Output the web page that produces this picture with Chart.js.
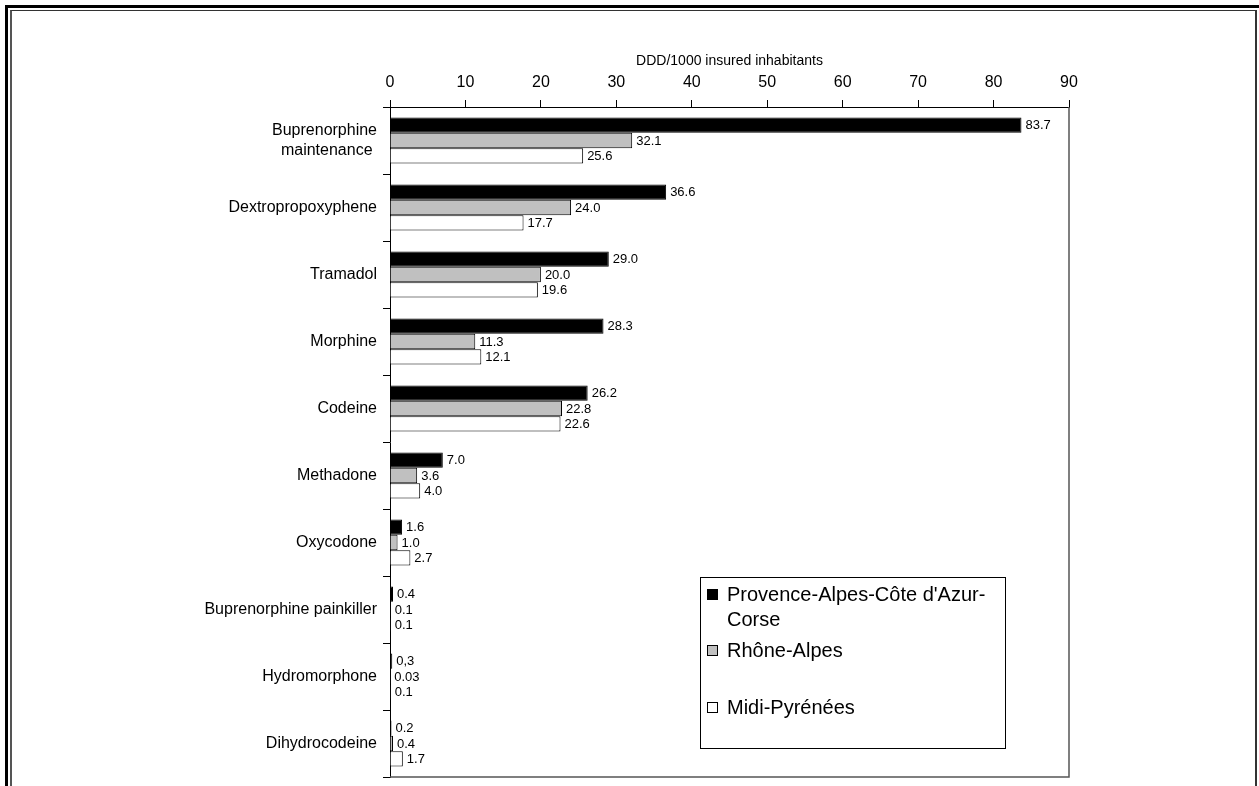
<!DOCTYPE html>
<html>
<head>
<meta charset="utf-8">
<script src="https://cdn.jsdelivr.net/npm/chart.js@4.4.1/dist/chart.umd.min.js"></script>
<style>
  html, body { margin: 0; padding: 0; background: #fff; }
  body { width: 1259px; height: 786px; position: relative; overflow: hidden; }
  #frameOuter { position: absolute; left: 5px; top: 5px; width: 1300px; height: 900px;
    border-top: 3px solid #000; border-left: 3px solid #000; box-sizing: border-box; }
  #frameInner { position: absolute; left: 10px; top: 10px; width: 1247px; height: 900px;
    border-top: 1px solid #333; border-left: 2px solid #555; border-right: 2px solid #333; box-sizing: border-box; }
  #wrap { position: absolute; left: 0; top: 0; width: 1259px; height: 786px; }
</style>
</head>
<body>
<div id="frameOuter"></div>
<div id="frameInner"></div>
<div id="wrap"><canvas id="c" width="1259" height="786"></canvas></div>
<script>
// Opioid consumption by region, DDD per 1000 insured inhabitants
const categories = [
  ["Buprenorphine", "maintenance "],
  "Dextropropoxyphene",
  "Tramadol",
  "Morphine",
  "Codeine",
  "Methadone",
  "Oxycodone",
  "Buprenorphine painkiller",
  "Hydromorphone",
  "Dihydrocodeine"
];
const seriesNames = ["Provence-Alpes-Côte d'Azur-Corse", "Rhône-Alpes", "Midi-Pyrénées"];
const legendLines = [["Provence-Alpes-Côte d'Azur-", "Corse"], ["Rhône-Alpes"], ["Midi-Pyrénées"]];
const pacaValues = [83.7, 36.6, 29.0, 28.3, 26.2, 7.0, 1.6, 0.4, 0.3, 0.2];
const rhoneValues = [32.1, 24.0, 20.0, 11.3, 22.8, 3.6, 1.0, 0.1, 0.03, 0.4];
const midiValues = [25.6, 17.7, 19.6, 12.1, 22.6, 4.0, 2.7, 0.1, 0.1, 1.7];
const pacaLabels = ["83.7", "36.6", "29.0", "28.3", "26.2", "7.0", "1.6", "0.4", "0,3", "0.2"];
const rhoneLabels = ["32.1", "24.0", "20.0", "11.3", "22.8", "3.6", "1.0", "0.1", "0.03", "0.4"];
const midiLabels = ["25.6", "17.7", "19.6", "12.1", "22.6", "4.0", "2.7", "0.1", "0.1", "1.7"];
const axisTitle = "DDD/1000 insured inhabitants";
const xTicks = [0, 10, 20, 30, 40, 50, 60, 70, 80, 90];

const FONT = "'Liberation Sans', Arial, sans-serif";

// Value labels to the right of each bar
const valueLabels = {
  id: 'valueLabels',
  afterDatasetsDraw(chart) {
    const ctx = chart.ctx;
    ctx.save();
    ctx.font = "13px " + FONT;
    ctx.fillStyle = "#000";
    ctx.textAlign = "left";
    ctx.textBaseline = "middle";
    chart.data.datasets.forEach((ds, di) => {
      const meta = chart.getDatasetMeta(di);
      meta.data.forEach((bar, i) => {
        ctx.fillText(ds.valueText[i], bar.x + 4, bar.y + 0.5);
      });
    });
    ctx.restore();
  }
};

// Right and bottom edges of the plot area
const plotFrame = {
  id: 'plotFrame',
  beforeDatasetsDraw(chart) {
    const { ctx, chartArea: a } = chart;
    ctx.save();
    ctx.strokeStyle = "#555";
    ctx.lineWidth = 1.5;
    ctx.beginPath();
    ctx.moveTo(a.right, a.top);
    ctx.lineTo(a.right, a.bottom);
    ctx.lineTo(a.left, a.bottom);
    ctx.stroke();
    ctx.restore();
  }
};

// Boxed legend inside the plot area
const boxLegend = {
  id: 'boxLegend',
  afterDraw(chart) {
    const ctx = chart.ctx;
    const bx = 700, by = 577, bw = 305, bh = 171;
    ctx.save();
    ctx.fillStyle = "#fff";
    ctx.fillRect(bx, by, bw, bh);
    ctx.strokeStyle = "#000";
    ctx.lineWidth = 1;
    ctx.strokeRect(bx + 0.5, by + 0.5, bw, bh);
    ctx.font = "20px " + FONT;
    ctx.textBaseline = "middle";
    ctx.textAlign = "left";
    const rowY = [595, 651, 708];
    chart.data.datasets.forEach((ds, i) => {
      const y = rowY[i];
      ctx.fillStyle = ds.backgroundColor;
      ctx.fillRect(707.5, y - 5.5, 10, 10);
      ctx.strokeStyle = "#000";
      ctx.strokeRect(707.5, y - 5.5, 10, 10);
      ctx.fillStyle = "#000";
      legendLines[i].forEach((line, k) => {
        ctx.fillText(line, 727, y + k * 25);
      });
    });
    ctx.restore();
  }
};

const barStyle = { borderColor: "#000", borderWidth: 1, categoryPercentage: 0.69, barPercentage: 1.0 };

new Chart(document.getElementById('c'), {
  type: 'bar',
  data: {
    labels: categories,
    datasets: [
      Object.assign({ label: seriesNames[0], data: pacaValues, valueText: pacaLabels, backgroundColor: "#000000" }, barStyle),
      Object.assign({ label: seriesNames[1], data: rhoneValues, valueText: rhoneLabels, backgroundColor: "#c0c0c0" }, barStyle),
      Object.assign({ label: seriesNames[2], data: midiValues, valueText: midiLabels, backgroundColor: "#ffffff" }, barStyle)
    ]
  },
  options: {
    indexAxis: 'y',
    responsive: false,
    animation: false,
    devicePixelRatio: 1,
    layout: { padding: { left: 0, top: 0, right: 190, bottom: 9 } },
    plugins: { legend: { display: false }, tooltip: { enabled: false } },
    scales: {
      x: {
        position: 'top',
        min: 0,
        max: 90,
        afterBuildTicks(scale) { scale.ticks = xTicks.map(v => ({ value: v })); },
        afterFit(scale) { scale.height = 107; scale.paddingLeft = 0; scale.paddingRight = 0; },
        ticks: { font: { family: FONT, size: 16 }, color: "#000", padding: 8 },
        grid: { drawOnChartArea: false, drawTicks: true, tickLength: 7, color: "#000" },
        border: { color: "#000", width: 1 },
        title: {
          display: true, text: axisTitle, color: "#000",
          font: { family: FONT, size: 14 }, padding: { top: 53, bottom: 0 }
        }
      },
      y: {
        afterFit(scale) { scale.width = 390; scale.paddingTop = 0; scale.paddingBottom = 0; },
        ticks: { font: { family: FONT, size: 16 }, color: "#000", padding: 6 },
        grid: { offset: true, drawOnChartArea: false, drawTicks: true, tickLength: 7, color: "#000" },
        border: { color: "#000", width: 1 }
      }
    }
  },
  plugins: [plotFrame, valueLabels, boxLegend]
});
</script>
</body>
</html>
